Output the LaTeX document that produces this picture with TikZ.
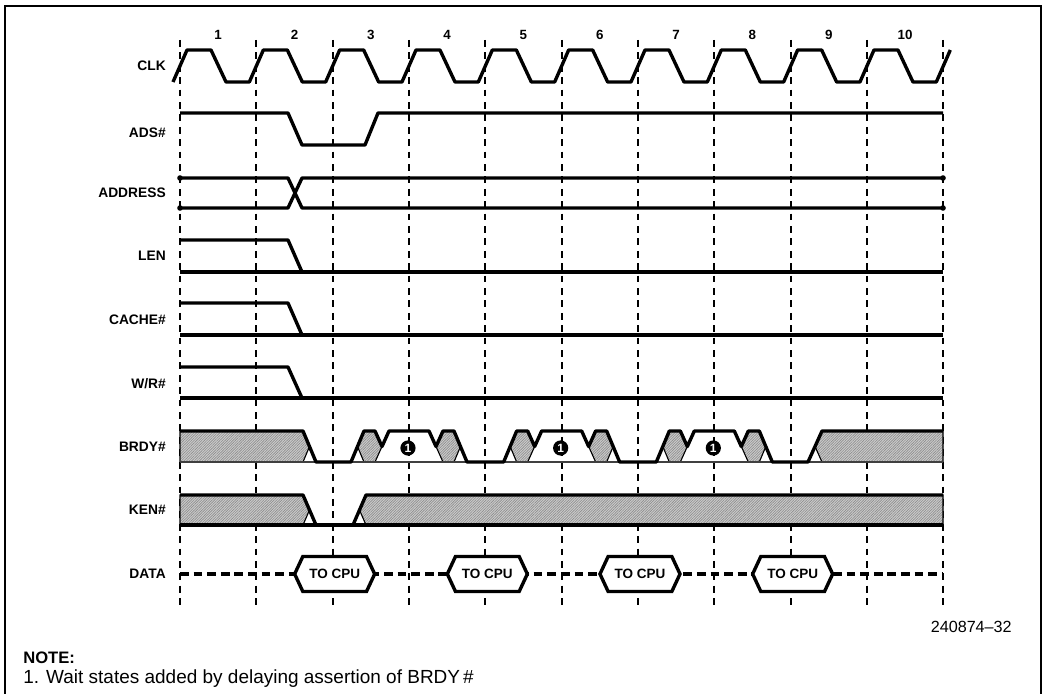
\documentclass[tikz,border=0pt]{standalone}
\usepackage{fontspec}
\setmainfont{Liberation Sans}
\usetikzlibrary{calc, shapes.symbols, patterns.meta}

\begin{document}
\begin{tikzpicture}[
  x=0.025cm, y=-0.025cm,
  %% nomes dos sinais (margem esquerda)
  siglabel/.style={anchor=east, inner sep=0pt, font=\fontsize{9.8}{11}\selectfont\bfseries},
  %% numeros dos ciclos
  cyclenum/.style={inner sep=0pt, font=\fontsize{9.5}{11}\selectfont\bfseries},
  %% formas de onda
  wave/.style={line width=2.4pt, line join=round},
  thinwave/.style={line width=1pt, black!75},
  %% linhas verticais tracejadas
  guide/.style={line width=1.3pt, dash pattern=on 0.17cm off 0.14cm},
  datadash/.style={line width=2.4pt, dash pattern=on 0.22cm off 0.12cm},
  %% regioes indefinidas (hachuradas)
  hatchzone/.style={draw=black, line width=0.8pt, preaction={fill=gray!40},
    pattern={Lines[angle=45, distance=1.3pt, line width=0.45pt]}, pattern color=gray!90},
  %% caixas de dados
  cpubox/.style={shape=signal, signal to=west and east, signal pointer angle=130,
    draw, line width=2.4pt, fill=white, inner sep=0pt,
    minimum width=2cm, minimum height=0.875cm,
    font=\fontsize{9.6}{11}\selectfont\bfseries},
  %% marcador da nota
  marker/.style={circle, fill=black, text=white, inner sep=0pt, minimum size=0.38cm,
    font=\fontsize{8.5}{9}\selectfont\bfseries}
]

\useasboundingbox (0,0) rectangle (1044,694);
\clip (0,0) rectangle (1044,694);

%% moldura
\draw[line width=1.4pt] (5,720) -- (5,6) -- (1041,6) -- (1041,720);

%% ================================================================
%% GRADE DE CICLOS
%% ================================================================
\foreach \k in {0,...,10}
  \coordinate (t\k) at ({180+76.33*\k},0);

\foreach \k in {0,...,10}
  \draw[guide] ($(t\k)+(0,40)$) -- ($(t\k)+(0,608)$);

\foreach \k in {1,...,10}
  \node[cyclenum] (cyc\k) at ($(t\k)+(-38.2,35)$) {\k};

%% ================================================================
%% NOMES DOS SINAIS
%% ================================================================
\node[siglabel] (lclk)   at (166,66)  {CLK};
\node[siglabel] (lads)   at (166,133) {ADS\#};
\node[siglabel] (laddr)  at (166,193) {ADDRESS};
\node[siglabel] (llen)   at (166,256) {LEN};
\node[siglabel] (lcache) at (166,320) {CACHE\#};
\node[siglabel] (lwr)    at (166,384) {W/R\#};
\node[siglabel] (lbrdy)  at (166,447) {BRDY\#};
\node[siglabel] (lken)   at (166,510) {KEN\#};
\node[siglabel] (ldata)  at (166,574) {DATA};

%% ================================================================
%% CLK, ADS#, ADDRESS
%% ================================================================
\draw[wave] ($(t0)+(-7,82)$)
  \foreach \k in {0,...,9} { -- ++(14,-32) -- ++(24,0) -- ++(15,32) -- ++(23.33,0) }
  -- ++(14,-32);

\draw[wave] (180,113) -- (288,113) -- (302,145) -- (365,145) -- (378,113) -- (943,113);

\draw[wave] (180,178) -- (288,178) -- (302,208) -- (943,208);
\draw[wave] (180,208) -- (288,208) -- (302,178) -- (943,178);
\foreach \p in {(180,178), (180,208), (943,178), (943,208)}
  \fill \p circle (2.8);

%% ================================================================
%% LEN, CACHE#, W/R#
%% ================================================================
\foreach \hi/\lo in {240/272, 303/335, 367/398} {
  \draw[wave] (180,\hi) -- (288,\hi) -- (302,\lo);
  \draw[wave] (180,\lo) -- (943,\lo);
}

%% ================================================================
%% BRDY#
%% ================================================================
\path[hatchzone] (180,431) -- (303,431) -- (309.5,446.5) -- (303,462) -- (180,462) -- cycle;
\path[hatchzone] (815,446.5) -- (822,431) -- (943,431) -- (943,462) -- (822,462) -- cycle;
\foreach \c in {3,5,7} {
  \path[hatchzone] ($(t\c)+(-51.5,446.5)$) -- ++(6.5,-15.5) -- ++(11,0) -- ++(7,15.5)
    -- ++(-7,15.5) -- ++(-11,0) -- cycle;
  \path[hatchzone] ($(t\c)+(27,446.5)$) -- ++(7,-15.5) -- ++(11,0) -- ++(6.5,15.5)
    -- ++(-6.5,15.5) -- ++(-11,0) -- cycle;
}
\draw[thinwave] (180,462) -- (943,462);

\draw[wave] (180,431) -- (303,431) -- (316,462)
  \foreach \c in {3,5,7} { -- ($(t\c)+(-58,462)$) -- ++(13,-31) -- ++(11,0) -- ++(7,15.5)
    -- ++(7,-15.5) -- ++(40,0) -- ++(7,15.5) -- ++(7,-15.5) -- ++(11,0) -- ++(13,31) }
  -- (808,462) -- (822,431) -- (943,431);

\foreach \c in {3,5,7}
  \node[marker] (mark\c) at ($(t\c)+(-1,448)$) {1};

%% ================================================================
%% KEN#
%% ================================================================
\path[hatchzone] (180,495) -- (303,495) -- (309.5,510) -- (303,525) -- (180,525) -- cycle;
\path[hatchzone] (359.5,510) -- (366,495) -- (943,495) -- (943,525) -- (366,525) -- cycle;
\draw[wave] (180,495) -- (303,495) -- (316,525) -- (353,525) -- (366,495) -- (943,495);
\draw[wave] (180,525) -- (943,525);

%% ================================================================
%% DATA
%% ================================================================
\draw[datadash] (180,574) -- (943,574);
\foreach \k in {2,4,6,8}
  \node[cpubox] (cpu\k) at ($(t\k)+(2,574)$) {TO CPU};

%% ================================================================
%% NOTA
%% ================================================================
\node[anchor=base east, inner sep=0pt, font=\fontsize{11.5}{13}\selectfont] (figno)
  at (1012,632) {240874--32};
\node[anchor=base west, inner sep=0pt, font=\fontsize{11.8}{14}\selectfont\bfseries] (notehead)
  at (23,663) {NOTE:};
\node[anchor=base west, inner sep=0pt, font=\fontsize{13.5}{15}\selectfont] (notetext)
  at (23,683) {1. Wait states added by delaying assertion of BRDY\,\#};

\end{tikzpicture}
\end{document}
